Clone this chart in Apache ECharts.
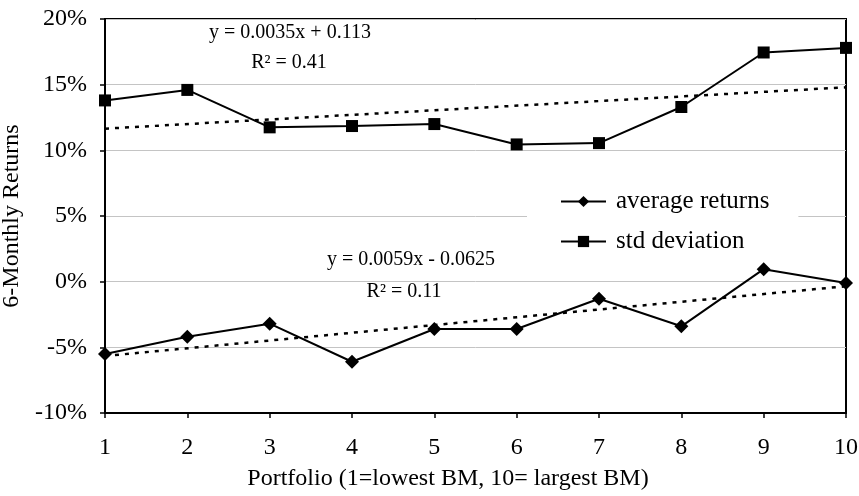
<!DOCTYPE html>
<html>
<head>
<meta charset="utf-8">
<script src="https://cdn.jsdelivr.net/npm/echarts@6/dist/echarts.min.js"></script>
<style>
  html, body { margin: 0; padding: 0; background: #fff; }
  #chart { width: 859px; height: 496px; }
</style>
</head>
<body>
<div id="chart"></div>
<script>
// portfolios 1..10 (1 = lowest BM)
const portfolios = [1, 2, 3, 4, 5, 6, 7, 8, 9, 10];
// values in percent
const avgReturns = [-5.5, -4.2, -3.2, -6.1, -3.6, -3.6, -1.3, -3.4, 0.95, -0.1];
const stdDeviation = [13.8, 14.6, 11.75, 11.85, 12.0, 10.45, 10.55, 13.3, 17.45, 17.8];
// linear trend end points (x = 1 and x = 10)
const trendX = [1, 10];
const avgTrend = [-5.66, -0.35];
const stdTrend = [11.65, 14.8];
const yTicks = [-10, 20, 5]; // min, max, step
const seriesNames = ['average returns', 'std deviation'];

const FONT = 'Liberation Serif';
const pairs = (xs, ys) => xs.map((x, i) => [x, ys[i]]);

const chart = echarts.init(document.getElementById('chart'));

let option = {
    backgroundColor: '#fff',
    animation: false,
    textStyle: { fontFamily: FONT, color: '#000' },
    grid: {
        left: 105, right: 13, top: 19, bottom: 83,
        outerBoundsMode: 'none', containLabel: false,
        show: true, borderColor: '#000', borderWidth: 2
    },
    legend: {
        data: seriesNames,
        orient: 'vertical',
        left: 527, top: 181,
        padding: [8, 29, 8, 33],
        backgroundColor: '#fff',
        itemWidth: 45, itemHeight: 14, itemGap: 15,
        textStyle: { fontFamily: FONT, fontSize: 25, color: '#000', padding: [0, 0, 0, 5] }
    },
    xAxis: {
        type: 'value',
        min: 1, max: 10, interval: 1,
        name: 'Portfolio (1=lowest BM, 10= largest BM)',
        nameLocation: 'middle', nameGap: 54,
        nameTextStyle: { fontFamily: FONT, fontSize: 24, color: '#000', padding: [0, 55, 0, 0] },
        axisLine: { onZero: false, lineStyle: { color: '#000', width: 2 } },
        axisTick: { show: true, length: 5, lineStyle: { color: '#000', width: 1.5 } },
        axisLabel: { fontFamily: FONT, fontSize: 24, color: '#000', margin: 23 },
        splitLine: { show: false }
    },
    yAxis: {
        type: 'value',
        min: yTicks[0], max: yTicks[1], interval: yTicks[2],
        name: '6-Monthly Returns',
        nameLocation: 'middle', nameGap: 71,
        nameTextStyle: { fontFamily: FONT, fontSize: 24, color: '#000' },
        axisLine: { show: true, lineStyle: { color: '#000', width: 2 } },
        axisTick: { show: true, length: 5, lineStyle: { color: '#000', width: 1.5 } },
        axisLabel: { fontFamily: FONT, fontSize: 24, color: '#000', margin: 18, formatter: '{value}%' },
        splitLine: { show: true, lineStyle: { color: '#c4c4c4', width: 1 } }
    },
    graphic: [
        { type: 'text', x: 290, y: 33, style: { text: 'y = 0.0035x + 0.113', font: '20px "Liberation Serif"', fill: '#000', textAlign: 'center', textVerticalAlign: 'middle' } },
        { type: 'text', x: 289, y: 63, style: { text: 'R² = 0.41', font: '20px "Liberation Serif"', fill: '#000', textAlign: 'center', textVerticalAlign: 'middle' } },
        { type: 'text', x: 411, y: 260, style: { text: 'y = 0.0059x - 0.0625', font: '20px "Liberation Serif"', fill: '#000', textAlign: 'center', textVerticalAlign: 'middle' } },
        { type: 'text', x: 404, y: 292, style: { text: 'R² = 0.11', font: '20px "Liberation Serif"', fill: '#000', textAlign: 'center', textVerticalAlign: 'middle' } }
    ],
    series: [
        {
            name: 'avg trend', type: 'line', data: pairs(trendX, avgTrend),
            symbol: 'none', silent: true, z: 1,
            lineStyle: { color: '#000', width: 2.5, type: [4, 6] }
        },
        {
            name: 'std trend', type: 'line', data: pairs(trendX, stdTrend),
            symbol: 'none', silent: true, z: 1,
            lineStyle: { color: '#000', width: 2.5, type: [4, 6] }
        },
        {
            name: seriesNames[0], type: 'line', data: pairs(portfolios, avgReturns),
            symbol: 'diamond', symbolSize: 14, z: 3,
            itemStyle: { color: '#000' },
            lineStyle: { color: '#000', width: 2 }
        },
        {
            name: seriesNames[1], type: 'line', data: pairs(portfolios, stdDeviation),
            symbol: 'rect', symbolSize: 12, z: 3,
            itemStyle: { color: '#000' },
            lineStyle: { color: '#000', width: 2 }
        }
    ]
};

chart.setOption(option);
</script>
</body>
</html>
